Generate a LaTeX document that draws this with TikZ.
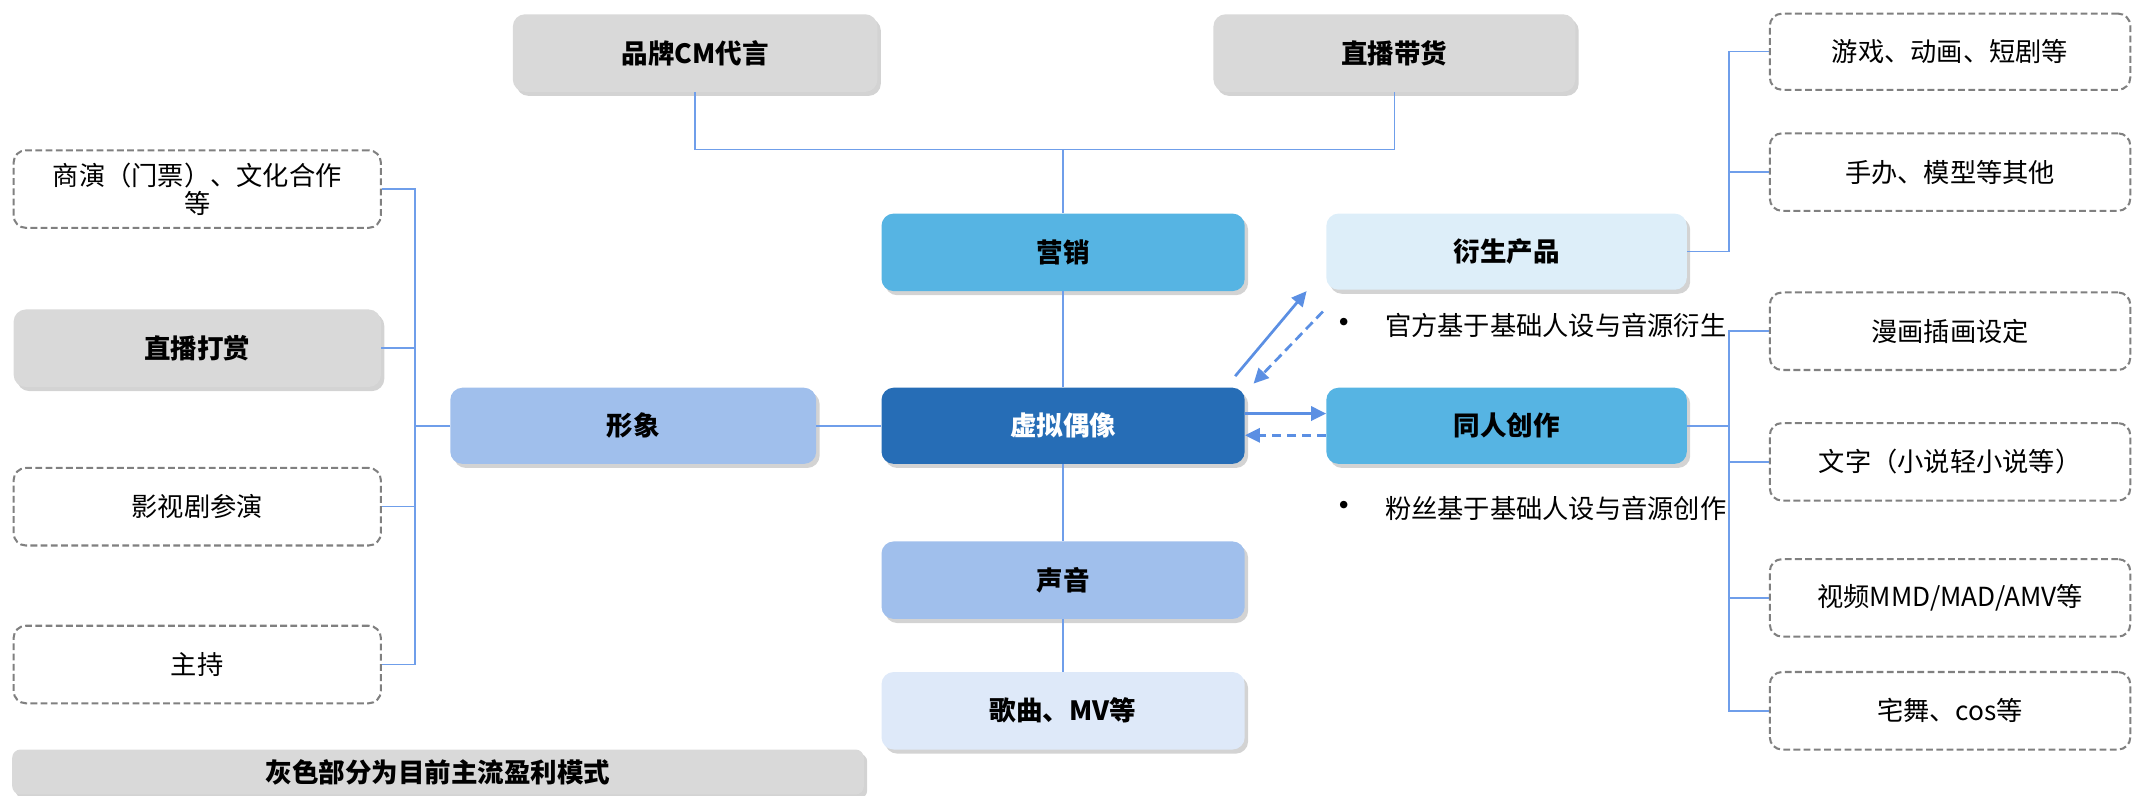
\documentclass[tikz,border=0pt]{standalone}
\usepackage{fontspec}
\setmainfont{Noto Sans CJK SC}
\usetikzlibrary{shadows,arrows.meta}
\definecolor{cgray}{HTML}{D9D9D9}
\definecolor{cmid}{HTML}{56B4E3}
\definecolor{cdark}{HTML}{266DB6}
\definecolor{cperi}{HTML}{A0BFEC}
\definecolor{cpale}{HTML}{DEE9F9}
\definecolor{cice}{HTML}{DDEEF9}
\definecolor{lblue}{HTML}{6F9EEA}
\definecolor{ablue}{HTML}{5B8FE3}
\definecolor{dgray}{HTML}{808080}
\begin{document}
\begin{tikzpicture}[x=1pt,y=-1pt,
  mybox/.style={rounded corners=9pt, minimum width=267pt, minimum height=57pt, inner sep=0pt, align=center, font=\fontsize{19.3}{22}\selectfont},
  fillbox/.style={mybox, drop shadow={shadow xshift=2.5pt, shadow yshift=-3pt, opacity=0.35}, font=\fontsize{19.5}{22}\selectfont\bfseries},
  dbox/.style={mybox, draw=dgray, line width=1.5pt, dash pattern=on 5pt off 2.5pt, fill=white},
  conn/.style={draw=lblue, line width=1.1pt},
  arr/.style={draw=ablue, line width=2pt, -{Triangle[length=11pt,width=10.5pt]}},
  darr/.style={arr, dash pattern=on 7pt off 4pt},
  bul/.style={anchor=west, inner sep=0pt, font=\fontsize{19.3}{22}\selectfont}
]
\useasboundingbox (0,0) rectangle (1568,585);

% top gray boxes
\node[fillbox, fill=cgray, minimum width=268pt] (pinpai) at (511,39) {品牌CM代言};
\node[fillbox, fill=cgray, minimum width=266pt] (zhibo) at (1025,39) {直播带货};

% center column
\node[fillbox, fill=cmid] (yingxiao) at (781.5,185.5) {营销};
\node[fillbox, fill=cdark, text=white, minimum height=56pt] (xuni) at (781.5,313) {虚拟偶像};
\node[fillbox, fill=cperi] (shengyin) at (781.5,426.5) {声音};
\node[fillbox, fill=cpale] (gequ) at (781.5,522.5) {歌曲、MV等};

% left
\node[fillbox, fill=cperi, minimum width=269pt, minimum height=56pt] (xingxiang) at (465.5,313) {形象};
\node[dbox, minimum width=270pt] (shangyan) at (145,139) {商演（门票）、文化合作\\[-1pt]等};
\node[fillbox, fill=cgray, minimum width=270pt] (dashang) at (145,256) {直播打赏};
\node[dbox, minimum width=270pt] (yingshi) at (145,372.5) {影视剧参演};
\node[dbox, minimum width=270pt] (zhuchi) at (145,488.5) {主持};

% right middle
\node[fillbox, fill=cice, minimum width=265pt, minimum height=56pt] (yansheng) at (1107.5,185) {衍生产品};
\node[fillbox, fill=cmid, minimum width=265pt, minimum height=56pt] (tongren) at (1107.5,313) {同人创作};
\node[bul] (b1) at (1018,239) {\llap{{\fontsize{26}{22}\selectfont •}\hspace{17pt}}官方基于基础人设与音源衍生};
\node[bul] (b2) at (1018,373.5) {\llap{{\fontsize{26}{22}\selectfont •}\hspace{17pt}}粉丝基于基础人设与音源创作};

% right boxes
\node[dbox, minimum width=265pt, minimum height=56pt] (youxi) at (1433.5,38) {游戏、动画、短剧等};
\node[dbox, minimum width=265pt] (shouban) at (1433.5,126.5) {手办、模型等其他};
\node[dbox, minimum width=265pt] (manhua) at (1433.5,243.5) {漫画插画设定};
\node[dbox, minimum width=265pt] (wenzi) at (1433.5,339.5) {文字（小说轻小说等）};
\node[dbox, minimum width=265pt] (shipin) at (1433.5,439.5) {视频MMD/MAD/AMV等};
\node[dbox, minimum width=265pt] (zhaiwu) at (1433.5,522.5) {宅舞、cos等};

% legend
\node[fillbox, fill=cgray, minimum width=626pt, minimum height=33pt, rounded corners=6pt] (legend) at (322,567.5) {灰色部分为目前主流盈利模式};

% connectors
\coordinate (tb) at (781.5,110);
\coordinate (lb) at (305,313);
\coordinate (rb1) at (1271,185);
\coordinate (rb2) at (1271,313);
\draw[conn] (pinpai.south) |- (tb) -| (zhibo.south);
\draw[conn] (tb) -- (yingxiao.north);
\draw[conn] (yingxiao.south) -- (xuni.north);
\draw[conn] (xuni.south) -- (shengyin.north);
\draw[conn] (shengyin.south) -- (gequ.north);
\draw[conn] (xuni.west) -- (xingxiang.east);
\draw[conn] (xingxiang.west) -- (lb);
\draw[conn] (shangyan.east) -| (lb);
\draw[conn] (dashang.east) -| (lb);
\draw[conn] (yingshi.east) -| (lb);
\draw[conn] (zhuchi.east) -| (lb);
\draw[conn] (yansheng.east) -- (rb1);
\draw[conn] (youxi.west) -| (rb1);
\draw[conn] (shouban.west) -| (rb1);
\draw[conn] (tongren.east) -- (rb2);
\draw[conn] (manhua.west) -| (rb2);
\draw[conn] (wenzi.west) -| (rb2);
\draw[conn] (shipin.west) -| (rb2);
\draw[conn] (zhaiwu.west) -| (rb2);

% arrows
\coordinate (s1) at (908,276.5);
\coordinate (e1) at (960.5,214);
\coordinate (s2) at (972.5,229);
\coordinate (e2) at (921.5,282);
\draw[arr] (s1) -- (e1);
\draw[darr] (s2) -- (e2);
\draw[arr] ([yshift=9pt]xuni.east) -- ([yshift=9pt]tongren.west);
\draw[darr] ([yshift=-7pt]tongren.west) -- ([yshift=-7pt]xuni.east);
\end{tikzpicture}
\end{document}
